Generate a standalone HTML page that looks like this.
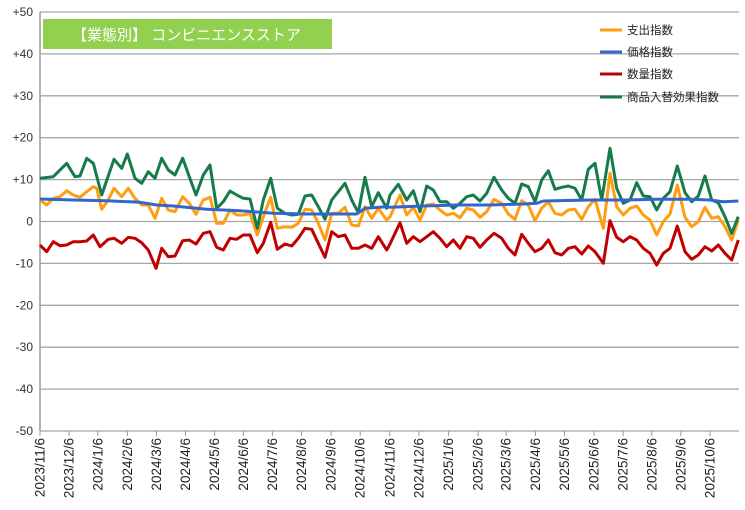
<!DOCTYPE html>
<html><head><meta charset="utf-8"><style>
body{margin:0;background:#fff}
svg{display:block;font-family:"Liberation Sans","Noto Sans CJK JP",sans-serif}
</style></head><body>
<svg id="c" width="745" height="510" xmlns="http://www.w3.org/2000/svg">
<g id="grid"></g>
<line x1="40" y1="12" x2="40" y2="431" stroke="#9a9a9a" stroke-width="1.5"/>
<rect x="43" y="19" width="289" height="30" fill="#92D050"/>
<text x="72" y="40" font-size="15" fill="#fff">【業態別】 コンビニエンスストア</text>
<g id="series" fill="none" stroke-width="3" stroke-linejoin="round"></g>
<g font-size="11.5" fill="#222">
<line x1="600" y1="30" x2="622" y2="30" stroke="#FF9E0E" stroke-width="3"/><text x="627" y="34">支出指数</text>
<line x1="600" y1="52" x2="622" y2="52" stroke="#3366CC" stroke-width="3"/><text x="627" y="56">価格指数</text>
<line x1="600" y1="74" x2="622" y2="74" stroke="#C00000" stroke-width="3"/><text x="627" y="78">数量指数</text>
<line x1="600" y1="97" x2="622" y2="97" stroke="#167B4A" stroke-width="3"/><text x="627" y="101">商品入替効果指数</text>
</g>
</svg>
<script>
var NS="http://www.w3.org/2000/svg",svg=document.getElementById('c'),g=document.getElementById('grid');
function el(t,a,p,txt){var e=document.createElementNS(NS,t);for(var k in a)e.setAttribute(k,a[k]);if(txt!=null)e.textContent=txt;(p||svg).appendChild(e);return e;}
for(var i=0;i<=10;i++){var v=50-i*10,y=12+i*41.9;
 el('line',{x1:40,x2:739,y1:y,y2:y,stroke:'#a6a6a6','stroke-width':1.3},g);
 el('text',{x:33,y:y+4,'text-anchor':'end','font-size':12,fill:'#333'},svg,v>0?'+'+v:''+v);}
var labels=["2023/11/6","2023/12/6","2024/1/6","2024/2/6","2024/3/6","2024/4/6","2024/5/6","2024/6/6","2024/7/6","2024/8/6","2024/9/6","2024/10/6","2024/11/6","2024/12/6","2025/1/6","2025/2/6","2025/3/6","2025/4/6","2025/5/6","2025/6/6","2025/7/6","2025/8/6","2025/9/6","2025/10/6"];
var zx=[85,147,208,271,333,395,457,518,580,642,705,767,830,892,955,1018,1078,1140,1202,1265,1327,1388,1450,1512];
for(var i=0;i<24;i++){var x=40+(zx[i]-85)*670/1427;
 el('line',{x1:x,x2:x,y1:431,y2:436,stroke:'#9a9a9a'},g);
 el('text',{transform:'translate('+(x+4.5)+',438) rotate(-90)','text-anchor':'end','font-size':13.5,fill:'#222'},svg,labels[i]);}
function pts(a,b){var s=[];for(var i=0;i<a.length;i+=2){if(a[i]>1050)continue;s.push((40+a[i]/3).toFixed(1)+','+(120+a[i+1]/3).toFixed(1));}
 for(var i=0;i<b.length;i+=2)s.push((390+b[i]/3).toFixed(1)+','+(120+b[i+1]/3).toFixed(1));return s.join(' ');}
var S=document.getElementById('series');
var G3=[0,175,40,170,80,130,105,170,120,168,140,115,160,130,185,225,222,118,245,145,262,102,285,175,305,190,325,155,345,175,365,115,385,150,405,165,428,115,448,170,468,225,490,165,510,135,530,265,550,245,570,213,590,225,610,235,630,237,652,325,670,240,692,175,712,265,735,280,755,285,775,283,795,228,815,225,835,260,855,298,875,240,895,215,915,190,935,240,955,278,975,172,995,260,1015,218,1040,265];
var G4=[0,225,25,193,50,240,70,212,90,275,110,198,130,210,150,245,170,245,190,265,210,250,230,230,250,225,270,243,290,220,312,172,335,210,355,235,375,250,395,192,415,200,435,245,455,180,475,152,495,208,515,202,535,198,555,205,575,240,595,148,615,130,635,240,660,85,680,205,700,250,720,240,740,188,760,228,780,230,800,270,820,235,840,215,862,138,885,218,905,245,925,228,945,168,965,240,985,248,1005,290,1025,340,1045,290];
var O3=[0,240,20,255,40,235,60,230,80,212,100,225,120,232,140,215,160,200,170,205,185,268,205,240,222,205,245,230,265,205,285,235,305,255,325,255,345,295,365,235,385,270,405,275,428,230,448,250,468,283,490,240,510,232,530,310,550,310,570,270,590,285,610,285,630,280,652,345,670,290,692,232,712,325,735,320,755,322,775,310,795,268,815,270,835,310,855,360,875,280,895,280,915,262,935,315,955,318,975,260,995,295,1015,265,1040,300];
var O4=[0,290,30,225,50,285,70,262,90,300,110,255,130,252,150,270,170,285,190,280,210,293,230,265,250,270,270,292,290,275,312,238,335,250,355,282,375,298,395,242,415,255,435,302,455,265,475,245,495,280,515,285,535,270,555,268,575,298,595,260,615,238,640,325,660,160,680,260,700,285,720,265,740,258,760,285,780,300,800,345,820,305,840,282,862,195,885,292,905,320,925,305,945,262,965,295,985,290,1005,320,1025,360,1045,300];
var B3=[0,237,100,240,200,242,300,247,350,255,400,258,500,268,600,272,700,280,800,282,950,282,975,265,1040,260];
var B4=[0,262,100,258,200,255,300,255,400,252,440,250,460,243,600,240,700,240,800,238,900,238,960,240,1000,245,1045,243];
var R3=[0,375,20,395,40,365,60,377,80,375,100,365,120,365,140,363,160,345,180,380,205,358,222,355,245,370,265,352,285,355,305,368,325,390,348,445,365,385,385,410,405,408,428,362,448,360,468,372,490,340,510,335,530,382,550,390,570,355,590,358,610,345,630,345,652,398,670,370,692,307,712,388,735,372,755,378,775,355,795,325,815,328,835,370,855,412,875,335,895,350,915,345,935,385,955,385,975,375,995,385,1015,350,1040,390];
var R4=[0,372,30,308,50,370,70,350,90,365,110,350,130,335,150,355,170,380,190,360,210,385,230,350,250,355,270,382,290,360,312,340,335,355,355,385,375,405,395,343,415,370,435,395,455,385,475,360,495,398,515,405,535,385,555,380,575,402,595,378,615,395,640,430,660,302,680,352,700,365,720,350,740,360,760,385,780,400,800,435,820,400,840,385,862,318,885,395,905,418,925,405,945,380,965,393,985,375,1005,400,1025,420,1045,360];
el('polyline',{points:pts(R3,R4),stroke:'#C00000'},S);
el('polyline',{points:pts(O3,O4),stroke:'#FF9E0E'},S);
el('polyline',{points:pts(G3,G4),stroke:'#167B4A'},S);
el('polyline',{points:pts(B3,B4),stroke:'#3366CC'},S);
</script>
</body></html>
